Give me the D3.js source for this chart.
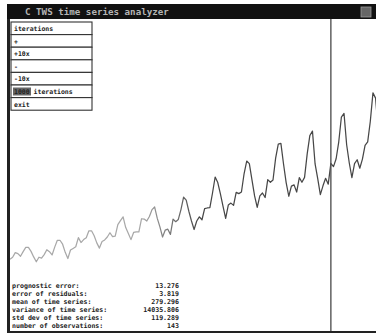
<!DOCTYPE html>
<html>
<head>
<meta charset="utf-8">
<script src="https://cdn.jsdelivr.net/npm/d3@7"></script>
<style>
  body { margin: 0; background: #fff; }
  svg { display: block; }
</style>
</head>
<body>
<div id="chart"></div>
<script>
// monthly series (observations)
const passengers = [
  112, 118, 132, 129, 121, 135, 148, 148, 136, 119, 104, 118,
  115, 126, 141, 135, 125, 149, 170, 170, 158, 133, 114, 140,
  145, 150, 178, 163, 172, 178, 199, 199, 184, 162, 146, 166,
  171, 180, 193, 181, 183, 218, 230, 242, 209, 191, 172, 194,
  196, 196, 236, 235, 229, 243, 264, 272, 237, 211, 180, 201,
  204, 188, 235, 227, 234, 264, 302, 293, 259, 229, 203, 229,
  242, 233, 267, 269, 270, 315, 364, 347, 312, 274, 237, 278,
  284, 277, 317, 313, 318, 374, 413, 405, 355, 306, 271, 306,
  315, 301, 356, 348, 355, 422, 465, 467, 404, 347, 305, 336,
  340, 318, 362, 348, 363, 435, 491, 505, 404, 359, 310, 337,
  360, 342, 406, 396, 420, 472, 548, 559, 463, 407, 362, 405,
  417, 391, 419, 461, 472, 535, 622, 606, 508, 461, 390, 432
];
const fadeFrom = 50;      // line fades from light to dark between these indices
const fadeTo = 72;
const markerIndex = 122;  // vertical cursor

const menuItems = ["iterations", "+", "+10x", "-", "-10x", "1000 iterations", "exit"];
const statLabels = [
  "prognostic error:",
  "error of residuals:",
  "mean of time series:",
  "variance of time series:",
  "std dev of time series:",
  "number of observations:"
];
const statValues = ["13.276", "3.819", "279.296", "14035.806", "119.289", "143"];
const title = "C TWS time series analyzer";

const width = 376, height = 335;
const mono = "'DejaVu Sans Mono', 'Liberation Mono', monospace";

const svg = d3.select("#chart").append("svg")
  .attr("width", width)
  .attr("height", height);

svg.append("rect").attr("width", width).attr("height", height).attr("fill", "#fff");

const x = d3.scaleLinear().domain([0, 143]).range([10, 386.1]);
const y = d3.scaleLinear().domain([0, 622]).range([295.7, 92.9]);

const defs = svg.append("defs");
defs.append("clipPath").attr("id", "clip")
  .append("rect").attr("x", 10).attr("y", 19).attr("width", width - 10).attr("height", 312);

const grad = defs.append("linearGradient")
  .attr("id", "fade")
  .attr("gradientUnits", "userSpaceOnUse")
  .attr("x1", x(fadeFrom)).attr("x2", x(fadeTo))
  .attr("y1", 0).attr("y2", 0);
grad.append("stop").attr("offset", 0).attr("stop-color", "#a8a8a8");
grad.append("stop").attr("offset", 1).attr("stop-color", "#474747");

const line = d3.line()
  .x((d, i) => x(i))
  .y(d => y(d));

const plot = svg.append("g").attr("clip-path", "url(#clip)");

plot.append("path")
  .datum(passengers)
  .attr("d", line)
  .attr("fill", "none")
  .attr("stroke", "url(#fade)")
  .attr("stroke-width", 1.25)
  .attr("stroke-linejoin", "round");

// vertical cursor
plot.append("line")
  .attr("x1", x(markerIndex)).attr("x2", x(markerIndex))
  .attr("y1", 19).attr("y2", 332)
  .attr("stroke", "#555")
  .attr("stroke-width", 1.4);

// title bar
svg.append("rect")
  .attr("x", 7).attr("y", 4).attr("width", width - 7).attr("height", 15)
  .attr("fill", "#111");
svg.append("text")
  .attr("x", 25).attr("y", 15)
  .attr("font-family", mono).attr("font-size", 9.2).attr("font-weight", "bold")
  .attr("fill", "#b5b5b5")
  .text(title);
svg.append("rect")
  .attr("x", 361).attr("y", 7).attr("width", 10).attr("height", 10)
  .attr("fill", "#666").attr("stroke", "#999").attr("stroke-width", 0.8);

// window frame
svg.append("rect").attr("x", 7).attr("y", 19).attr("width", 3).attr("height", 314).attr("fill", "#222");
svg.append("rect").attr("x", 7).attr("y", 331).attr("width", width - 7).attr("height", 2).attr("fill", "#222");

// menu
const rowH = 12.6;
const menu = svg.append("g").attr("transform", "translate(11,22)");
menu.selectAll("rect.item")
  .data(menuItems)
  .join("rect")
  .attr("class", "item")
  .attr("x", 0).attr("y", (d, i) => i * rowH)
  .attr("width", 81).attr("height", rowH)
  .attr("fill", "#fff")
  .attr("stroke", "#333")
  .attr("stroke-width", 1.1);

menu.append("rect")
  .attr("x", 2).attr("y", 5 * rowH + 2.5).attr("width", 18).attr("height", 8)
  .attr("fill", "#666");

menu.selectAll("text")
  .data(menuItems)
  .join("text")
  .attr("x", 3).attr("y", (d, i) => i * rowH + 9)
  .attr("font-family", mono).attr("font-size", 6.5).attr("font-weight", "bold")
  .attr("fill", "#222")
  .text(d => d);

// statistics
const stats = svg.append("g");
stats.selectAll("text.lbl")
  .data(statLabels)
  .join("text")
  .attr("class", "lbl")
  .attr("x", 12).attr("y", (d, i) => 288 + i * 8)
  .attr("font-family", mono).attr("font-size", 6.6).attr("font-weight", "bold")
  .attr("fill", "#222")
  .text(d => d);
stats.selectAll("text.val")
  .data(statValues)
  .join("text")
  .attr("class", "val")
  .attr("x", 179).attr("y", (d, i) => 288 + i * 8)
  .attr("text-anchor", "end")
  .attr("font-family", mono).attr("font-size", 6.6).attr("font-weight", "bold")
  .attr("fill", "#222")
  .text(d => d);
</script>
</body>
</html>
